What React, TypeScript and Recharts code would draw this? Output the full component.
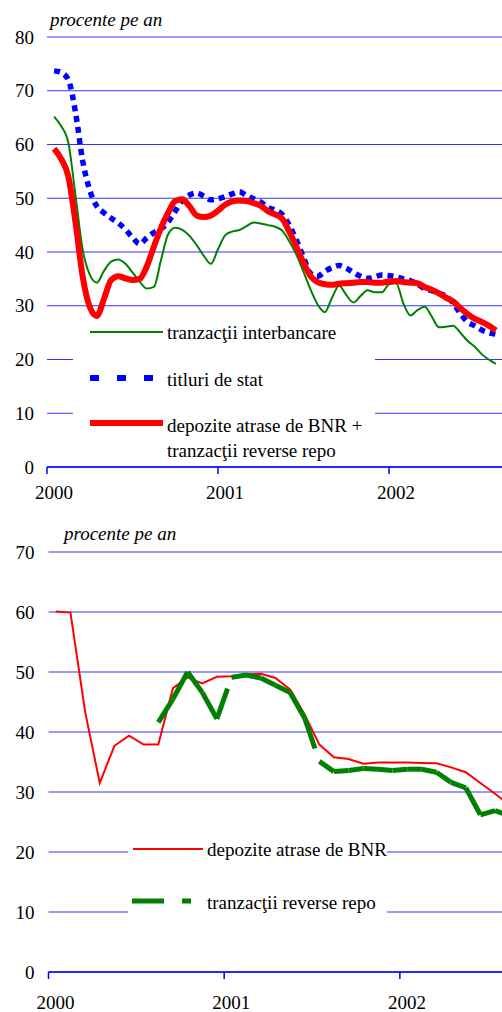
import { LineChart, Line, XAxis, YAxis, CartesianGrid, Legend } from "recharts";

// ---- top chart: half-month points, x in months since Jan 2000 ----
const topMonths = [
  0.5, 1, 1.5, 2, 2.5, 3, 3.5, 4, 4.5, 5, 5.5, 6, 6.5, 7, 7.5, 8, 8.5, 9, 9.5, 10,
  10.5, 11, 11.5, 12, 12.5, 13, 13.5, 14, 14.5, 15, 15.5, 16, 16.5, 17, 17.5, 18,
  18.5, 19, 19.5, 20, 20.5, 21, 21.5, 22, 22.5, 23, 23.5, 24, 24.5, 25, 25.5, 26,
  26.5, 27, 27.5, 28, 28.5, 29, 29.5, 30, 30.5, 31, 31.5,
];

const interbank = [
  65.2, 63.4, 60.3, 50.5, 40.5, 35.8, 34.3, 36.5, 38.2, 38.6, 37.8, 36.2, 34.5,
  33.2, 33.5, 38.5, 43.3, 44.5, 44.1, 43.0, 41.3, 39.3, 37.8, 40.5, 43.1, 43.8,
  44.1, 44.8, 45.5, 45.3, 45.0, 44.7, 44.0, 42.0, 39.5, 36.3, 33.0, 30.2, 28.8,
  31.5, 33.7, 32.0, 30.6, 31.8, 32.9, 32.5, 32.5, 34.0, 34.2, 30.5, 28.2, 29.2,
  29.8, 28.0, 26.0, 26.1, 26.3, 25.0, 23.5, 22.4, 21.0, 20.0, 19.2,
];

const govSecurities = [
  73.7, 73.4, 72.0, 66.0, 57.0, 51.5, 48.5, 47.3, 46.3, 45.4, 44.2, 42.7, 41.5,
  42.6, 43.6, 44.3, 45.6, 47.6, 49.6, 50.6, 51.0, 50.4, 49.7, 49.9, 50.3, 50.8,
  51.2, 50.5, 49.9, 49.3, 48.3, 47.8, 47.0, 45.0, 42.2, 39.0, 36.0, 35.5, 36.4,
  37.1, 37.5, 37.0, 36.2, 35.5, 35.1, 35.4, 35.7, 35.6, 35.4, 35.0, 34.7, 34.0,
  33.2, 32.8, 32.3, 31.8, 30.5, 28.6, 27.0, 26.3, 25.5, 25.0, 24.7,
];

const depositsPlusRepo = [
  59.2, 57.3, 54.0, 45.5, 35.5, 29.8, 28.1, 31.3, 34.8, 35.5, 35.1, 34.8, 35.0,
  37.3, 41.0, 44.5, 47.3, 49.5, 49.8, 48.5, 46.8, 46.5, 46.8, 47.7, 48.8, 49.4,
  49.6, 49.5, 49.1, 48.6, 47.6, 47.0, 46.2, 43.8, 41.0, 38.0, 35.5, 34.4, 34.0,
  33.9, 34.1, 34.2, 34.3, 34.4, 34.4, 34.3, 34.3, 34.5, 34.6, 34.4, 34.3, 34.2,
  33.5, 33.0, 32.3, 31.5, 30.8, 29.6, 28.5, 27.6, 27.0, 26.3, 25.4,
];

const topYTicks = [0, 10, 20, 30, 40, 50, 60, 70, 80];

// ---- bottom chart: monthly points ----
const bottomMonths = [
  0.5, 1.5, 2.5, 3.5, 4.5, 5.5, 6.5, 7.5, 8.5, 9.5, 10.5, 11.5, 12.5, 13.5, 14.5,
  15.5, 16.5, 17.5, 18.5, 19.5, 20.5, 21.5, 22.5, 23.5, 24.5, 25.5, 26.5, 27.5,
  28.5, 29.5, 30.5, 31.5,
];

const bnrDeposits = [
  60.1, 59.9, 43.4, 31.5, 37.7, 39.4, 37.9, 37.9, 47.3, 49.1, 48.1, 49.2, 49.3,
  49.6, 49.7, 49.0, 47.1, 42.9, 37.9, 35.8, 35.5, 34.7, 34.9, 34.9, 34.9, 34.85,
  34.8, 34.1, 33.3, 31.5, 29.7, 27.8,
];

const reverseRepo: (number | null)[] = [
  null, null, null, null, null, null, null, 41.6, 45.5, 50.0, 46.6, 42.2, 49.1,
  49.5, 49.0, 47.8, 46.6, 42.3, 35.1, 33.4, 33.6, 33.9, 33.8, 33.6, 33.8, 33.8,
  33.3, 31.6, 30.7, 26.2, 26.9, 26.0,
];

const bottomYTicks = [0, 10, 20, 30, 40, 50, 60, 70];

const yearTicks = [0, 12, 24];
const yearLabels = ["2000", "2001", "2002"];

const FONT = '"Liberation Serif", "Times New Roman", serif';
const GRID = "#3333ff";
const AXIS = "#0000ff";

const topData = topMonths.map((m, i) => ({
  m,
  interbank: interbank[i],
  gov: govSecurities[i],
  depo: depositsPlusRepo[i],
}));

// the dashed repo line restarts its dash pattern at every point, so each
// month-to-month piece is its own series
const repoSegments = reverseRepo
  .map((v, i) => i)
  .filter((i) => i < reverseRepo.length - 1 && reverseRepo[i] != null && reverseRepo[i + 1] != null);

const bottomData = bottomMonths.map((m, i) => {
  const row: Record<string, number | null> = { m, depo: bnrDeposits[i] };
  repoSegments.forEach((s) => {
    row[`seg${s}`] = i === s || i === s + 1 ? reverseRepo[i] : null;
  });
  return row;
});

const yearFormatter = (v: number) => yearLabels[yearTicks.indexOf(v)] ?? "";

function TopLegend() {
  return (
    <svg width={302} height={140} style={{ display: "block", background: "#fff" }}>
      <line x1={17} x2={90} y1={10} y2={10} stroke="#008000" strokeWidth={2} />
      <text x={94} y={17} fontSize={19} fill="#000">tranzacţii interbancare</text>
      <line x1={17} x2={80} y1={56} y2={56} stroke="#0000ff" strokeWidth={6} strokeDasharray="9 18" />
      <text x={94} y={64} fontSize={19} fill="#000">titluri de stat</text>
      <line x1={17} x2={90} y1={101} y2={101} stroke="#ff0000" strokeWidth={6} />
      <text x={94} y={110} fontSize={19} fill="#000">depozite atrase de BNR +</text>
      <text x={94} y={135} fontSize={19} fill="#000">tranzacţii reverse repo</text>
    </svg>
  );
}

function BottomLegend() {
  return (
    <svg width={259} height={90} style={{ display: "block", background: "#fff" }}>
      <line x1={5} x2={75} y1={14} y2={14} stroke="#ff0000" strokeWidth={2} />
      <text x={79} y={21} fontSize={19} fill="#000">depozite atrase de BNR</text>
      <line x1={4} x2={63} y1={66} y2={66} stroke="#008000" strokeWidth={5} strokeDasharray="32 18 9 18" />
      <text x={79} y={74} fontSize={19} fill="#000">tranzacţii reverse repo</text>
    </svg>
  );
}

export default function App() {
  return (
    <div
      style={{
        position: "absolute",
        left: 0,
        top: 0,
        width: 502,
        height: 1012,
        overflow: "hidden",
        background: "#fff",
        fontFamily: FONT,
      }}
    >
      <div style={{ position: "absolute", left: 50, top: 10, fontSize: 19, lineHeight: "19px", fontStyle: "italic" }}>
        procente pe an
      </div>
      <div style={{ position: "absolute", left: 0, top: 0 }}>
        <LineChart width={503} height={507} data={topData} margin={{ top: 37, right: 0, left: 0, bottom: 0 }}>
          <CartesianGrid vertical={false} stroke={GRID} />
          <XAxis
            type="number"
            dataKey="m"
            domain={[0, 32]}
            ticks={yearTicks}
            tickFormatter={yearFormatter}
            height={40}
            tickSize={7}
            tickMargin={12}
            axisLine={{ stroke: AXIS, strokeWidth: 1.5 }}
            tickLine={{ stroke: AXIS, strokeWidth: 1.5 }}
            tick={{ fontSize: 19, fill: "#000", dx: 7 }}
          />
          <YAxis
            domain={[0, 80]}
            ticks={topYTicks}
            interval={0}
            width={47}
            axisLine={false}
            tickLine={false}
            tickSize={0}
            tickMargin={13}
            tick={{ fontSize: 19, fill: "#000" }}
          />
          <Legend
            layout="horizontal"
            verticalAlign="middle"
            align="center"
            content={() => <TopLegend />}
            wrapperStyle={{ left: 73, top: 322, width: 302, height: 140 }}
          />
          <Line
            type="monotone"
            dataKey="interbank"
            stroke="#008000"
            strokeWidth={2}
            dot={false}
            isAnimationActive={false}
          />
          <Line
            type="monotone"
            dataKey="gov"
            stroke="#0000ff"
            strokeWidth={5.5}
            strokeDasharray="6 5"
            dot={false}
            isAnimationActive={false}
          />
          <Line
            type="monotone"
            dataKey="depo"
            stroke="#ff0000"
            strokeWidth={6}
            dot={false}
            isAnimationActive={false}
          />
        </LineChart>
      </div>

      <div style={{ position: "absolute", left: 64, top: 524, fontSize: 19, lineHeight: "19px", fontStyle: "italic" }}>
        procente pe an
      </div>
      <div style={{ position: "absolute", left: 0, top: 510 }}>
        <LineChart width={517} height={512} data={bottomData} margin={{ top: 42, right: 0, left: 0, bottom: 0 }}>
          <CartesianGrid vertical={false} stroke={GRID} />
          <XAxis
            type="number"
            dataKey="m"
            domain={[0, 32]}
            ticks={yearTicks}
            tickFormatter={yearFormatter}
            height={50}
            tickSize={7}
            tickMargin={17}
            axisLine={{ stroke: AXIS, strokeWidth: 1.5 }}
            tickLine={{ stroke: AXIS, strokeWidth: 1.5 }}
            tick={{ fontSize: 19, fill: "#000", dx: 7 }}
          />
          <YAxis
            domain={[0, 70]}
            ticks={bottomYTicks}
            interval={0}
            width={48.5}
            axisLine={false}
            tickLine={false}
            tickSize={0}
            tickMargin={14}
            tick={{ fontSize: 19, fill: "#000" }}
          />
          <Legend
            layout="horizontal"
            verticalAlign="middle"
            align="center"
            content={() => <BottomLegend />}
            wrapperStyle={{ left: 128, top: 325, width: 259, height: 90 }}
          />
          <Line
            type="linear"
            dataKey="depo"
            stroke="#ff0000"
            strokeWidth={2}
            dot={false}
            isAnimationActive={false}
          />
          {repoSegments.map((s) => (
            <Line
              key={s}
              type="linear"
              dataKey={`seg${s}`}
              stroke="#008000"
              strokeWidth={5}
              strokeDasharray="32 18 9 18"
              connectNulls={false}
              dot={false}
              legendType="none"
              isAnimationActive={false}
            />
          ))}
        </LineChart>
      </div>
    </div>
  );
}
